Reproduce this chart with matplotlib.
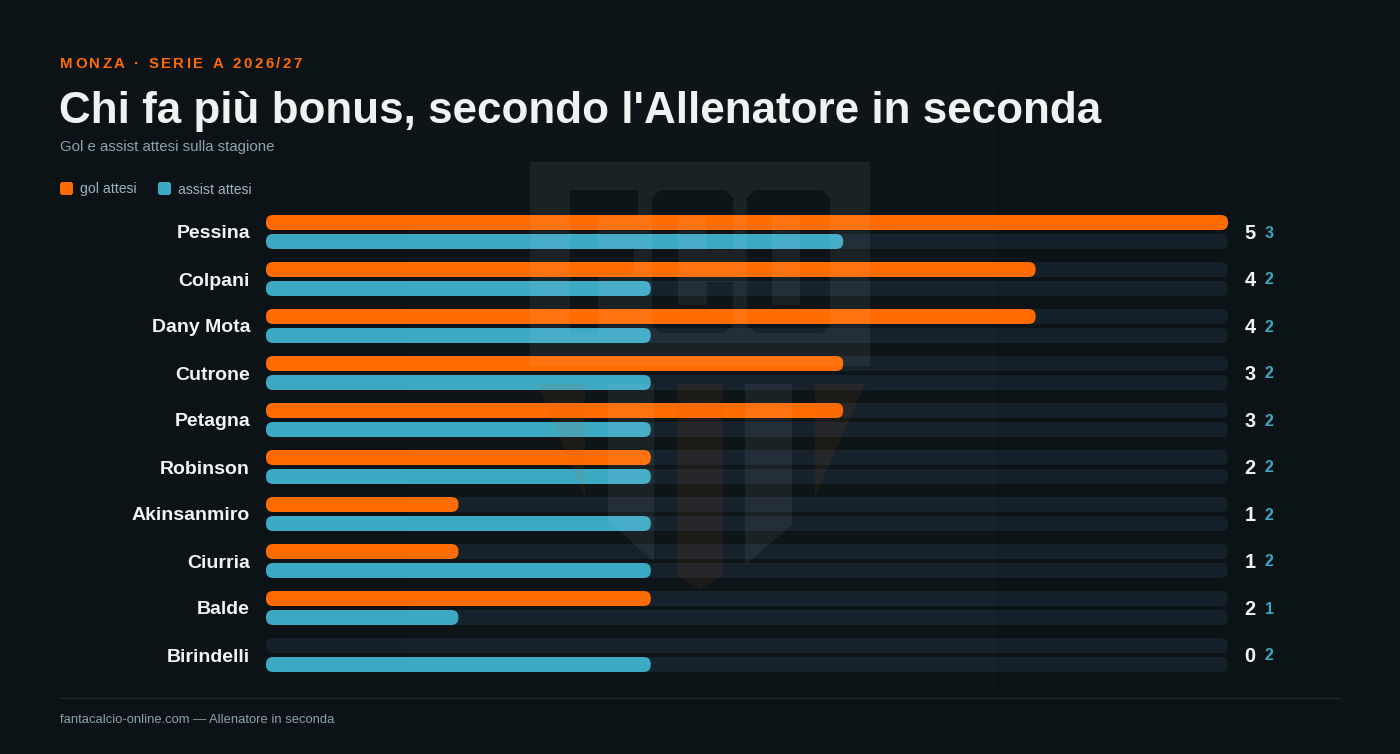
import matplotlib
matplotlib.use("Agg")
import matplotlib.pyplot as plt
from matplotlib.patches import FancyBboxPatch, Polygon, PathPatch
from matplotlib.path import Path
from matplotlib import transforms

plt.rcParams['font.family'] = ['Liberation Sans', 'DejaVu Sans']

# dati
giocatori = ['Pessina', 'Colpani', 'Dany Mota', 'Cutrone', 'Petagna',
             'Robinson', 'Akinsanmiro', 'Ciurria', 'Balde', 'Birindelli']
gol = [5, 4, 4, 3, 3, 2, 1, 1, 2, 0]
assist = [3, 2, 2, 2, 2, 2, 2, 2, 1, 2]
scala_max = 5

BG = '#0b1316'
ARANCIO = '#ff6b00'
CIANO = '#3ba9c4'
TRACCIA = '#14202a'

W, H = 1400, 754
fig = plt.figure(figsize=(W / 100, H / 100), dpi=100, facecolor=BG)

# sfondo in pixel per testi e decorazioni
bg = fig.add_axes([0, 0, 1, 1], zorder=0)
bg.set_xlim(0, W)
bg.set_ylim(H, 0)
bg.axis('off')
bg.set_facecolor(BG)


def px(v):
    return v * 72 / 100  # pixel -> punti


def testo_spaziato(ax, x, y, s, size, spacing, **kw):
    r = fig.canvas.get_renderer()
    for ch in s:
        t = ax.text(x, y, ch, fontsize=size, **kw)
        w = t.get_window_extent(renderer=r).width
        if ch == ' ':
            w = size * 100 / 72 * 0.28
        x += w + spacing


testo_spaziato(bg, 60, 68, 'MONZA · SERIE A 2026/27', px(15), 2.5,
               color=ARANCIO, fontweight='bold', va='baseline')
bg.text(59, 123, "Chi fa più bonus, secondo l'Allenatore in seconda",
        fontsize=px(44), fontweight='bold', color='#f0f2f2', va='baseline')
bg.text(60, 147, 'Gol e assist attesi sulla stagione', fontsize=px(15),
        color='#8aa4b0', va='center')

# legenda
for x0, lab, col in [(60, 'gol attesi', ARANCIO), (158, 'assist attesi', CIANO)]:
    bg.add_patch(FancyBboxPatch((x0, 182), 13, 13, boxstyle='round,pad=0,rounding_size=2.5',
                                fc=col, ec='none'))
    bg.text(x0 + 20, 189.5, lab, fontsize=px(14), color='#9db3bd', va='center')

# linea e footer
bg.plot([60, 1340], [698, 698], color='#1d282e', lw=1)
bg.text(60, 720, 'fantacalcio-online.com — Allenatore in seconda', fontsize=px(13),
        color='#8aa1ab', va='center')

# barre
n = len(giocatori)
ax = fig.add_axes([266 / W, 1 - 678.5 / H, 962 / W, 470 / H], zorder=1)
ax.set_xlim(0, scala_max)
ax.set_ylim(n - 0.5, -0.5)
ax.axis('off')
ax.patch.set_visible(False)

px_x = scala_max / 962
px_y = 1 / 47
asp = px_y / px_x
h_bar = 15 * px_y
off = 9.5 * px_y
rad = 7 * px_x


def barra(x_val, yc, col):
    ax.add_patch(FancyBboxPatch((0, yc - h_bar / 2), x_val, h_bar,
                                boxstyle=f'round,pad=0,rounding_size={rad}',
                                mutation_aspect=asp, fc=col, ec='none'))


tr_nomi = transforms.offset_copy(ax.get_yaxis_transform(), fig=fig, x=-16, y=-2, units='dots')
tr_gol = transforms.offset_copy(ax.get_yaxis_transform(), fig=fig, x=22, y=-1.5, units='dots')
tr_ass = transforms.offset_copy(ax.get_yaxis_transform(), fig=fig, x=41, y=-1, units='dots')

for i, (nome, g, a) in enumerate(zip(giocatori, gol, assist)):
    barra(scala_max, i - off, TRACCIA)
    barra(scala_max, i + off, TRACCIA)
    if g > 0:
        barra(g, i - off, ARANCIO)
    if a > 0:
        barra(a, i + off, CIANO)
    ax.text(0, i, nome, transform=tr_nomi, ha='right', va='center',
            fontsize=px(19.5), fontweight='bold', color='#f2f4f4')
    ax.text(1, i, str(g), transform=tr_gol, ha='center', va='center',
            fontsize=px(20), fontweight='bold', color='#f2f4f4')
    ax.text(1, i, str(a), transform=tr_ass, ha='center', va='center',
            fontsize=px(16), fontweight='bold', color=CIANO)

# filigrana (stemma) sopra le barre
wm = fig.add_axes([0, 0, 1, 1], zorder=2)
wm.set_xlim(0, W)
wm.set_ylim(H, 0)
wm.axis('off')
wm.patch.set_visible(False)


def orienta(pts, segno):
    a = sum(pts[k][0] * pts[(k + 1) % len(pts)][1] - pts[(k + 1) % len(pts)][0] * pts[k][1]
            for k in range(len(pts)))
    if (a > 0) != (segno > 0):
        pts = pts[::-1]
    return pts


def ottagono(x0, y0, x1, y1, c):
    return [(x0 + c, y0), (x1 - c, y0), (x1, y0 + c), (x1, y1 - c),
            (x1 - c, y1), (x0 + c, y1), (x0, y1 - c), (x0, y0 + c)]


contorni = [
    orienta([(530, 162), (870, 162), (870, 366), (530, 366)], 1),
    # F
    orienta([(570, 190), (638, 190), (638, 217), (598, 217), (598, 248), (634, 248),
             (634, 275), (598, 275), (598, 333), (570, 333)], -1),
    # C
    orienta([(660, 190), (725, 190), (733, 198), (733, 250), (707, 250), (707, 217),
             (678, 217), (678, 305), (707, 305), (707, 282), (733, 282), (733, 325),
             (725, 333), (660, 333), (652, 325), (652, 198)], -1),
    # O
    orienta(ottagono(747, 190, 830, 333, 8), -1),
    orienta([(772, 217), (800, 217), (800, 305), (772, 305)], 1),
]
vert, codici = [], []
for c in contorni:
    vert += list(c) + [c[0]]
    codici += [Path.MOVETO] + [Path.LINETO] * (len(c) - 1) + [Path.CLOSEPOLY]
wm.add_patch(PathPatch(Path(vert, codici), fc='white', ec='none', alpha=0.06))

wm.add_patch(Polygon([(406, 82), (995, 82), (995, 690), (406, 690)], closed=True,
                     fc='white', ec='none', alpha=0.012))

strisce = [
    ([(537, 384), (585, 384), (585, 497)], '#c05a17', 0.09),
    ([(608, 384), (654, 384), (654, 562), (608, 520)], 'white', 0.06),
    ([(677, 384), (723, 384), (723, 575), (700, 590), (677, 575)], '#c05a17', 0.09),
    ([(745, 384), (792, 384), (792, 525), (745, 565)], 'white', 0.06),
    ([(815, 384), (865, 384), (815, 497)], '#c05a17', 0.09),
]
for pts, col, al in strisce:
    wm.add_patch(Polygon(pts, closed=True, fc=col, ec='none', alpha=al))

fig.savefig('out.png', dpi=100, facecolor=BG)
